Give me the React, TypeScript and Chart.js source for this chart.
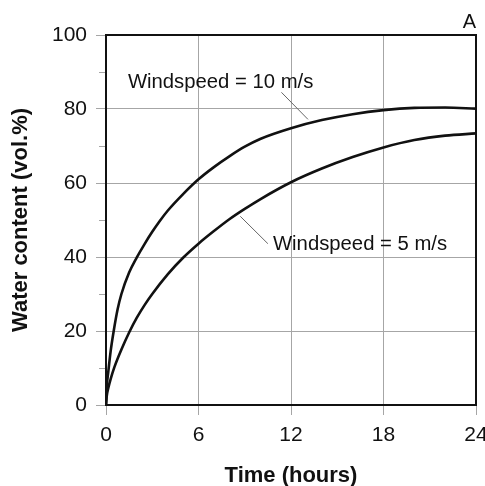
import React, { useEffect, useRef } from 'react';
import { Chart, registerables } from 'chart.js';

Chart.register(...registerables);

// Time (hours) and water content (vol.%) for each windspeed curve
const hours10 = [0, 0.05, 0.15, 0.3, 0.5, 0.75, 1, 1.5, 2, 2.5, 3, 3.5, 4, 5, 6, 7, 8, 9, 10, 12, 14, 16, 18, 20, 22, 24];
const water10 = [0, 5, 9, 14.5, 20, 25.8, 30, 35.8, 39.9, 43.5, 46.8, 49.8, 52.5, 57, 61, 64.3, 67.2, 69.8, 71.9, 74.8, 77, 78.6, 79.7, 80.3, 80.4, 80.1];

const hours5 = [0, 0.05, 0.15, 0.3, 0.55, 1, 1.5, 2, 2.5, 3, 4, 5, 6, 7, 8, 9, 10, 12, 14, 16, 18, 20, 22, 24];
const water5 = [0, 2.5, 4.6, 7, 10.3, 15, 19.6, 23.6, 27, 30, 35.3, 39.8, 43.6, 47, 50.2, 53, 55.6, 60.2, 63.9, 67, 69.6, 71.6, 72.8, 73.4];

const xTickValues = [0, 6, 12, 18, 24];
const yMajorStep = 20;
const yMinorStep = 10;

const seriesLabels = ['Windspeed = 10 m/s', 'Windspeed = 5 m/s'];
const xTitle = 'Time (hours)';
const yTitle = 'Water content (vol.%)';
const panelLetter = 'A';

// Annotation placement in data units: text anchor (left, baseline) and leader line
const annotations = [
  { text: seriesLabels[0], tx: 1.42, ty: 85.8, line: [11.38, 84.5, 13.1, 77.2] },
  { text: seriesLabels[1], tx: 10.83, ty: 42.0, line: [8.71, 51.0, 10.5, 43.6] },
];

const FONT = '"Liberation Sans", Arial, Helvetica, sans-serif';
const GRID = '#a6a6a6';
const INK = '#111111';

export default function App() {
  const ref = useRef<HTMLCanvasElement | null>(null);

  useEffect(() => {
    document.body.style.margin = '0';
    const canvas = ref.current;
    if (!canvas) return;

    const overlay = {
      id: 'overlay',
      beforeDatasetsDraw(chart: any) {
        const { ctx, chartArea: a } = chart;
        const ys = chart.scales.y;
        ctx.save();
        ctx.strokeStyle = GRID;
        ctx.lineWidth = 1;
        for (let v = 0; v <= 100; v += yMinorStep) {
          if (v % yMajorStep === 0) continue;
          const py = Math.round(ys.getPixelForValue(v)) + 0.5;
          ctx.beginPath();
          ctx.moveTo(a.left - 7, py);
          ctx.lineTo(a.left, py);
          ctx.stroke();
        }
        ctx.strokeStyle = INK;
        ctx.lineWidth = 2;
        ctx.strokeRect(a.left, a.top, a.right - a.left, a.bottom - a.top);
        ctx.restore();
      },
      afterDatasetsDraw(chart: any) {
        const { ctx, chartArea: a } = chart;
        const xs = chart.scales.x;
        const ys = chart.scales.y;
        ctx.save();
        for (const an of annotations) {
          const [x1, y1, x2, y2] = an.line;
          ctx.strokeStyle = '#666666';
          ctx.lineWidth = 1;
          ctx.beginPath();
          ctx.moveTo(xs.getPixelForValue(x1), ys.getPixelForValue(y1));
          ctx.lineTo(xs.getPixelForValue(x2), ys.getPixelForValue(y2));
          ctx.stroke();
          ctx.fillStyle = INK;
          ctx.font = `20.3px ${FONT}`;
          ctx.textAlign = 'left';
          ctx.textBaseline = 'alphabetic';
          ctx.fillText(an.text, xs.getPixelForValue(an.tx), ys.getPixelForValue(an.ty));
        }
        ctx.fillStyle = INK;
        ctx.font = `20px ${FONT}`;
        ctx.textAlign = 'right';
        ctx.textBaseline = 'alphabetic';
        ctx.fillText(panelLetter, a.right, a.top - 7);
        ctx.restore();
      },
    };

    const chart = new Chart(canvas, {
      type: 'line',
      data: {
        datasets: [
          {
            label: seriesLabels[0],
            data: hours10.map((h, i) => ({ x: h, y: water10[i] })),
            borderColor: INK,
            borderWidth: 2.6,
            pointRadius: 0,
            cubicInterpolationMode: 'monotone',
            fill: false,
          },
          {
            label: seriesLabels[1],
            data: hours5.map((h, i) => ({ x: h, y: water5[i] })),
            borderColor: INK,
            borderWidth: 2.6,
            pointRadius: 0,
            cubicInterpolationMode: 'monotone',
            fill: false,
          },
        ],
      },
      options: {
        responsive: false,
        animation: false,
        layout: { autoPadding: false, padding: { top: 35, right: 9, left: 0, bottom: 0 } },
        plugins: {
          legend: { display: false },
          tooltip: { enabled: false },
        },
        scales: {
          x: {
            type: 'linear',
            min: 0,
            max: 24,
            afterFit: (s: any) => { s.height = 81; s.paddingLeft = 0; s.paddingRight = 0; },
            afterBuildTicks: (s: any) => { s.ticks = xTickValues.map((v) => ({ value: v })); },
            ticks: {
              autoSkip: false,
              maxRotation: 0,
              padding: 8,
              color: INK,
              font: { family: FONT, size: 21 },
            },
            grid: { color: GRID, tickColor: GRID, tickLength: 10, lineWidth: 1 },
            border: { display: false },
            title: {
              display: true,
              text: xTitle,
              color: INK,
              font: { family: FONT, size: 22, weight: 'bold' },
              padding: { top: 0, bottom: -3 },
            },
          },
          y: {
            type: 'linear',
            min: 0,
            max: 100,
            afterFit: (s: any) => { s.width = 106; s.paddingTop = 0; s.paddingBottom = 0; },
            ticks: {
              stepSize: yMajorStep,
              autoSkip: false,
              padding: 9,
              color: INK,
              font: { family: FONT, size: 21 },
            },
            grid: { color: GRID, tickColor: GRID, tickLength: 10, lineWidth: 1 },
            border: { display: false },
            title: {
              display: true,
              text: yTitle,
              color: INK,
              font: { family: FONT, size: 22, weight: 'bold' },
              padding: { top: 8, bottom: 0 },
            },
          },
        },
      },
      plugins: [overlay],
    } as any);

    return () => chart.destroy();
  }, []);

  return (
    <div style={{ width: 485, height: 486, position: 'relative' }}>
      <canvas ref={ref} width={485} height={486} style={{ width: 485, height: 486, display: 'block' }} />
    </div>
  );
}
